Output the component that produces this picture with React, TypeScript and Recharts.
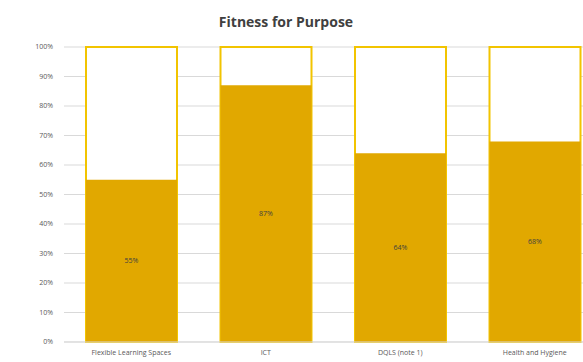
import React from "react";
import { BarChart, Bar, XAxis, YAxis, CartesianGrid, LabelList } from "recharts";

const categories = ["Flexible Learning Spaces", "ICT", "DQLS (note 1)", "Health and Hygiene"];
const fitValues = [55, 87, 64, 68];
const yTicks = [0, 10, 20, 30, 40, 50, 60, 70, 80, 90, 100];

const data = categories.map((name, i) => ({ name, value: fitValues[i] }));

export default function App() {
  return (
    <div
      style={{
        position: "absolute",
        left: 0,
        top: 0,
        width: 583,
        height: 362,
        overflow: "hidden",
        background: "#fff",
        fontFamily: "'Open Sans', sans-serif",
      }}
    >
      <div
        style={{
          position: "absolute",
          top: 12,
          left: 0,
          width: 572,
          textAlign: "center",
          fontSize: 14,
          fontWeight: 700,
          color: "#404040",
        }}
      >
        Fitness for Purpose
      </div>
      <BarChart
        width={602}
        height={362}
        data={data}
        margin={{ top: 47, right: 0, bottom: 0, left: 0 }}
        barSize={91}
      >
        <CartesianGrid vertical={false} stroke="#d9d9d9" />
        <XAxis
          dataKey="name"
          height={20}
          axisLine={{ stroke: "#d9d9d9" }}
          tickLine={false}
          tickSize={0}
          tickMargin={8}
          tick={{ fontSize: 7, fill: "#595959" }}
          interval={0}
        />
        <YAxis
          width={64}
          domain={[0, 100]}
          ticks={yTicks}
          tickFormatter={(v) => `${v}%`}
          axisLine={false}
          tickLine={false}
          tickSize={0}
          tickMargin={11}
          tick={{ fontSize: 7, fill: "#595959" }}
        />
        <Bar
          dataKey="value"
          fill="#e1a800"
          isAnimationActive={false}
          background={{ fill: "#fff", stroke: "#f2c400", strokeWidth: 2 }}
        >
          <LabelList
            dataKey="value"
            position="center"
            formatter={(v: number) => `${v}%`}
            style={{ fontSize: 7, fill: "#404040" }}
          />
        </Bar>
      </BarChart>
    </div>
  );
}
